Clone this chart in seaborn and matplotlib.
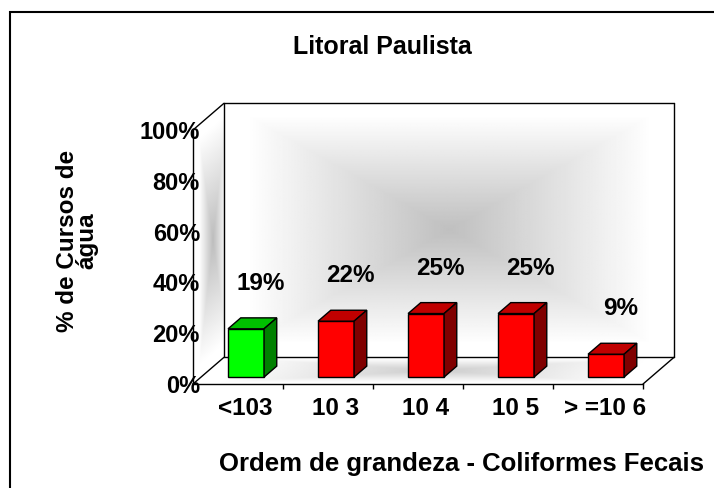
import matplotlib
matplotlib.use("Agg")
import matplotlib.pyplot as plt
from matplotlib.patches import Polygon, Rectangle
import numpy as np
import seaborn as sns

# dados do grafico
categorias = ['<103', '10 3', '10 4', '10 5', '> =10 6']
percentuais = [19, 22, 25, 25, 9]
rotulos = ['19%', '22%', '25%', '25%', '9%']
cores_frente = ['#00FF00', '#FF0000', '#FF0000', '#FF0000', '#FF0000']
cores_topo = ['#00C000', '#C00000', '#C00000', '#C00000', '#C00000']
cores_lado = ['#008000', '#800000', '#800000', '#800000', '#800000']
ticks_y = [0, 20, 40, 60, 80, 100]
rotulos_y = ['0%', '20%', '40%', '60%', '80%', '100%']

# profundidade da "caixa" 3D em unidades de dados
DX, DY = 0.344, 10.5
FRENTE, PROF_BARRA = 0.26, 0.41

sns.set_style("white")
plt.rcParams['font.family'] = ['Liberation Sans', 'DejaVu Sans']
plt.rcParams['font.weight'] = 'bold'
plt.rcParams['font.size'] = 17
for k in ['text.color', 'xtick.color', 'ytick.color', 'axes.edgecolor', 'axes.labelcolor']:
    plt.rcParams[k] = 'black'

fig = plt.figure(figsize=(7.14, 4.88), dpi=100)
ax = fig.add_axes([193 / 714, 104 / 488, 481 / 714, 280.7 / 488])
ax.patch.set_alpha(0)

sns.barplot(x=categorias, y=percentuais, hue=categorias, palette=cores_frente,
            width=0.4, saturation=1, edgecolor='black', linewidth=1,
            legend=False, ax=ax, zorder=3)

barras = list(ax.patches)
for i, b in enumerate(barras):
    b.set_x(b.get_x() + FRENTE * DX)
    b.set_y(FRENTE * DY)
    x0, y0, w, h = b.get_x(), b.get_y(), b.get_width(), b.get_height()
    ddx, ddy = PROF_BARRA * DX, PROF_BARRA * DY
    topo = Polygon([(x0, y0 + h), (x0 + w, y0 + h), (x0 + w + ddx, y0 + h + ddy), (x0 + ddx, y0 + h + ddy)],
                   closed=True, fc=cores_topo[i], ec='black', lw=1, zorder=3)
    lado = Polygon([(x0 + w, y0), (x0 + w + ddx, y0 + ddy), (x0 + w + ddx, y0 + h + ddy), (x0 + w, y0 + h)],
                   closed=True, fc=cores_lado[i], ec='black', lw=1, zorder=3)
    ax.add_patch(topo)
    ax.add_patch(lado)
    ax.text(i + 0.25, y0 + percentuais[i] + 17.8, rotulos[i], ha='center', va='center',
            fontsize=17.5, fontweight='bold', zorder=5)


def gradiente(u, v, escuro=0.76):
    f = np.maximum(np.abs(u), np.abs(v))
    return escuro + (1 - escuro) * np.clip(f / 0.9, 0, 1)


x_esq, x_dir = -0.5, 4.5
# parede do fundo
uu, vv = np.meshgrid(np.linspace(-1, 1, 300), np.linspace(-1, 1, 200))
ax.imshow(gradiente(uu, vv, 0.75), cmap='gray', vmin=0, vmax=1, origin='lower', aspect='auto',
          extent=[x_esq + DX, x_dir + DX, DY, 100 + DY], interpolation='bilinear', zorder=0)

# parede lateral
X, Y = np.meshgrid(np.linspace(x_esq, x_esq + DX, 60), np.linspace(0, 100 + DY, 300))
t = (X - x_esq) / DX
hh = Y - t * DY
img = ax.imshow(gradiente(2 * t - 1.3, 2 * hh / 100 - 1, 0.74), cmap='gray', vmin=0, vmax=1,
                origin='lower', aspect='auto', extent=[x_esq, x_esq + DX, 0, 100 + DY],
                interpolation='bilinear', zorder=0)
lateral = Polygon([(x_esq, 0), (x_esq, 100), (x_esq + DX, 100 + DY), (x_esq + DX, DY)],
                  closed=True, fc='none', ec='none', transform=ax.transData)
img.set_clip_path(lateral)

# piso
X, Y = np.meshgrid(np.linspace(x_esq, x_dir + DX, 300), np.linspace(0, DY, 60))
t = Y / DY
s = X - t * DX
img = ax.imshow(gradiente((s - 2) / 2.5, 2 * t - 1, 0.8), cmap='gray', vmin=0, vmax=1,
                origin='lower', aspect='auto', extent=[x_esq, x_dir + DX, 0, DY],
                interpolation='bilinear', zorder=0)
piso = Polygon([(x_esq, 0), (x_dir, 0), (x_dir + DX, DY), (x_esq + DX, DY)],
               closed=True, fc='none', ec='none', transform=ax.transData)
img.set_clip_path(piso)

# arestas da caixa
arestas = [
    [(x_esq + DX, 100 + DY), (x_dir + DX, 100 + DY)],
    [(x_esq + DX, DY), (x_esq + DX, 100 + DY)],
    [(x_dir + DX, DY), (x_dir + DX, 100 + DY)],
    [(x_esq + DX, DY), (x_dir + DX, DY)],
    [(x_esq, 100), (x_esq + DX, 100 + DY)],
    [(x_esq, 0), (x_esq + DX, DY)],
    [(x_dir, 0), (x_dir + DX, DY)],
]
for (xa, ya), (xb, yb) in arestas:
    ax.plot([xa, xb], [ya, yb], color='black', lw=1, clip_on=False, zorder=2)

ax.set_xlim(x_esq, x_dir + DX)
ax.set_ylim(0, 100 + DY)

sns.despine(ax=ax, top=True, right=True)
ax.spines['left'].set_bounds(0, 100)
ax.spines['bottom'].set_bounds(x_esq, x_dir)
for sp in ['left', 'bottom']:
    ax.spines[sp].set_linewidth(1)
    ax.spines[sp].set_color('black')

ax.set_yticks(ticks_y, rotulos_y)
ax.tick_params(axis='y', length=0, pad=-5, labelsize=17)
ax.set_xticks(np.arange(len(categorias)) + 0.08, categorias)
ax.set_xticks(np.arange(len(categorias)) + 0.5, minor=True)
ax.tick_params(axis='x', which='major', length=0, pad=9.7, labelsize=17.5)
ax.tick_params(axis='x', which='minor', bottom=True, length=3.6, width=1, direction='out', color='black')
for lbl in ax.get_xticklabels() + ax.get_yticklabels():
    lbl.set_fontweight('bold')
ax.set_xlabel('')
ax.set_ylabel('')

# textos
fig.text(382 / 714, 1 - 54 / 488, 'Litoral Paulista', ha='center', va='baseline',
         fontsize=18, fontweight='bold')
fig.text(461.5 / 714, 1 - 471 / 488, 'Ordem de grandeza - Coliformes Fecais', ha='center',
         va='baseline', fontsize=18.5, fontweight='bold')
fig.text(77 / 714, 1 - 241 / 488, '% de Cursos de\nágua', rotation=90,
         ha='center', va='center', multialignment='center', linespacing=0.8,
         fontsize=17.5, fontweight='bold')

# moldura externa
fig.patches.append(Rectangle((10 / 714, -0.05), 1.1, (488 - 12) / 488 + 0.05,
                             transform=fig.transFigure, fill=False, ec='black', lw=1.5))

fig.savefig('out.png', dpi=100)
